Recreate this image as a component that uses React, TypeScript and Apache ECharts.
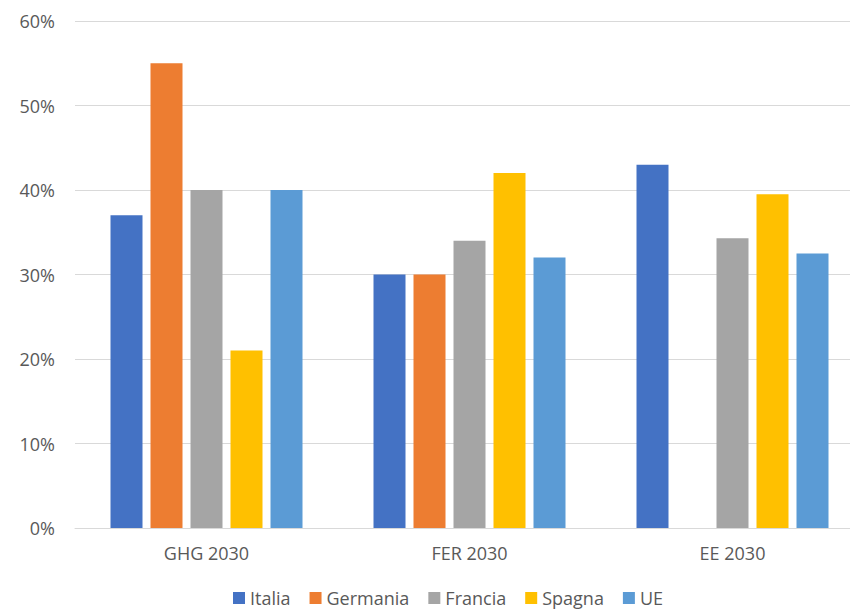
import React, { useEffect, useRef } from "react";
import * as echarts from "echarts";

// Obiettivi 2030 per paese (%)
const categories = ["GHG 2030", "FER 2030", "EE 2030"];
const italia = [37, 30, 43];
const germania = [55, 30, null];
const francia = [40, 34, 34.3];
const spagna = [21, 42, 39.5];
const ue = [40, 32, 32.5];

const seriesDefs = [
  { name: "Italia", data: italia, color: "#4472C4" },
  { name: "Germania", data: germania, color: "#ED7D31" },
  { name: "Francia", data: francia, color: "#A5A5A5" },
  { name: "Spagna", data: spagna, color: "#FFC000" },
  { name: "UE", data: ue, color: "#5B9BD5" },
];

const FONT = "'Open Sans', 'Noto Sans', sans-serif";
const TEXT = "#595959";
const GRID = "#D9D9D9";

export default function App() {
  const ref = useRef<HTMLDivElement>(null);

  useEffect(() => {
    if (!ref.current) return;
    const chart = echarts.init(ref.current, undefined, { renderer: "svg" });
    chart.setOption({
      animation: false,
      backgroundColor: "#ffffff",
      textStyle: { fontFamily: FONT },
      grid: { left: 75, right: 6, top: 21, bottom: 83, containLabel: false },
      legend: {
        data: seriesDefs.map((s) => s.name),
        left: 233,
        top: 589,
        padding: 0,
        icon: "rect",
        itemWidth: 12,
        itemHeight: 12,
        itemGap: 19,
        textStyle: { color: TEXT, fontSize: 18, lineHeight: 16, fontFamily: FONT, padding: [0, 0, 0, 0] },
      },
      xAxis: {
        type: "category",
        data: categories,
        axisLine: { lineStyle: { color: GRID, width: 1 } },
        axisTick: { show: false },
        axisLabel: { color: TEXT, fontSize: 18, fontFamily: FONT, margin: 16 },
      },
      yAxis: {
        type: "value",
        min: 0,
        max: 60,
        interval: 10,
        axisLine: { show: false },
        axisTick: { show: false },
        axisLabel: { color: TEXT, fontSize: 18, fontFamily: FONT, margin: 20, formatter: "{value}%" },
        splitLine: { lineStyle: { color: GRID, width: 1 } },
      },
      series: seriesDefs.map((s) => ({
        name: s.name,
        type: "bar",
        data: s.data,
        barWidth: 32,
        barGap: "25%",
        itemStyle: { color: s.color },
      })),
    });
    return () => chart.dispose();
  }, []);

  return (
    <div style={{ position: "absolute", left: 0, top: 0, width: 850, height: 611, overflow: "hidden", background: "#fff" }}>
      <div ref={ref} style={{ width: 870, height: 611 }} />
    </div>
  );
}
